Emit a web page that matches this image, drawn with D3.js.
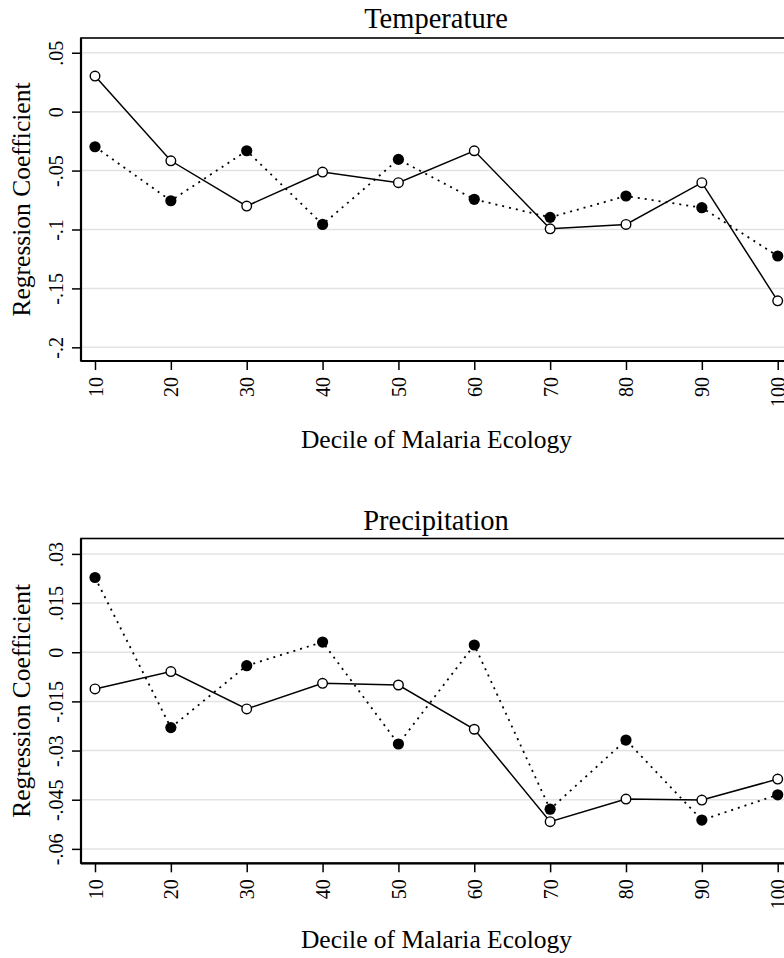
<!DOCTYPE html>
<html>
<head>
<meta charset="utf-8">
<script src="https://cdn.jsdelivr.net/npm/d3@7"></script>
<style>
	body { margin: 0; background: #fff; }
	svg { display: block; }
	text { font-family: "Liberation Serif", "Times New Roman", serif; fill: #000; }
</style>
</head>
<body>
<svg></svg>
<script>
//Canvas settings
var width = 784;
var height = 958;

//Data
var deciles = [10, 20, 30, 40, 50, 60, 70, 80, 90, 100];
var tempOpen = [0.0302, -0.0417, -0.0801, -0.0513, -0.0603, -0.0332, -0.0994, -0.0957, -0.0603, -0.1605];
var tempFilled = [-0.0298, -0.0756, -0.0332, -0.0957, -0.0405, -0.0744, -0.0897, -0.0716, -0.0815, -0.1225];
var precOpen = [-0.0112, -0.0059, -0.0173, -0.0095, -0.0100, -0.0235, -0.0517, -0.0448, -0.0451, -0.0387];
var precFilled = [0.0228, -0.0230, -0.0041, 0.0031, -0.0280, 0.0022, -0.0479, -0.0268, -0.0512, -0.0435];

//Tick values and labels
var tempTicks = [0.05, 0, -0.05, -0.1, -0.15, -0.2];
var tempTickLabels = [".05", "0", "-.05", "-.1", "-.15", "-.2"];
var precTicks = [0.03, 0.015, 0, -0.015, -0.03, -0.045, -0.06];
var precTickLabels = [".03", ".015", "0", "-.015", "-.03", "-.045", "-.06"];

var titles = ["Temperature", "Precipitation"];
var xTitle = "Decile of Malaria Ecology";
var yTitle = "Regression Coefficient";

var svg = d3.select("svg")
	.attr("width", width)
	.attr("height", height);

//plot region shared by both panels
var left = 81, right = 791;
var x = d3.scaleLinear().domain([10, 100]).range([95, 777.7]);

drawPanel({
	title: titles[0], top: 38, bottom: 361,
	domain: [-0.2116, 0.0625],
	ticks: tempTicks, labels: tempTickLabels,
	open: tempOpen, filled: tempFilled,
	titleY: 27.7, xTitleY: 448.3
});

drawPanel({
	title: titles[1], top: 538.5, bottom: 863.3,
	domain: [-0.0644, 0.0347],
	ticks: precTicks, labels: precTickLabels,
	open: precOpen, filled: precFilled,
	titleY: 530, xTitleY: 948.3
});

function drawPanel(p) {
	var y = d3.scaleLinear().domain(p.domain).range([p.bottom, p.top]);
	var g = svg.append("g");

	//gridlines
	g.selectAll("line.grid")
		.data(p.ticks)
		.enter().append("line")
		.attr("class", "grid")
		.attr("x1", left).attr("x2", right)
		.attr("y1", function(d) { return y(d); })
		.attr("y2", function(d) { return y(d); })
		.attr("stroke", "#e3e3e3")
		.attr("stroke-width", 1.5);

	//frame
	g.append("rect")
		.attr("x", left).attr("y", p.top)
		.attr("width", right - left).attr("height", p.bottom - p.top)
		.attr("fill", "none")
		.attr("stroke", "#000")
		.attr("stroke-width", 1.6);

	//y axis
	var labelOf = {};
	p.ticks.forEach(function(t, i) { labelOf[t] = p.labels[i]; });
	var yAxis = g.append("g")
		.attr("transform", "translate(" + left + ",0)")
		.call(d3.axisLeft(y).tickValues(p.ticks).tickSize(9).tickFormat(function(d) { return labelOf[d]; }))
		.attr("font-family", null)
		.attr("font-size", null);
	yAxis.select(".domain").attr("stroke-width", 2.2).attr("d", "M0," + p.top + "V" + p.bottom);
	yAxis.selectAll(".tick line").attr("stroke-width", 1.5);
	yAxis.selectAll(".tick text")
		.attr("x", 0).attr("y", -18).attr("dy", 0)
		.attr("transform", "rotate(-90)")
		.attr("text-anchor", "middle")
		.style("font-size", "20px");

	//x axis
	var xAxis = g.append("g")
		.attr("transform", "translate(0," + p.bottom + ")")
		.call(d3.axisBottom(x).tickValues(deciles).tickSize(9))
		.attr("font-family", null)
		.attr("font-size", null);
	xAxis.select(".domain").attr("stroke-width", 2.2).attr("d", "M" + left + ",0H" + right);
	xAxis.selectAll(".tick line").attr("stroke-width", 1.5);
	xAxis.selectAll(".tick text")
		.attr("x", -16).attr("y", 0).attr("dy", "0.35em")
		.attr("transform", "rotate(-90)")
		.attr("text-anchor", "end")
		.style("font-size", "20px");

	//titles
	g.append("text")
		.attr("x", (left + right) / 2).attr("y", p.titleY)
		.attr("text-anchor", "middle")
		.style("font-size", "28.5px")
		.text(p.title);
	g.append("text")
		.attr("x", 436.5).attr("y", p.xTitleY)
		.attr("text-anchor", "middle")
		.style("font-size", "25.5px")
		.text(xTitle);
	g.append("text")
		.attr("transform", "translate(30," + ((p.top + p.bottom) / 2) + ") rotate(-90)")
		.attr("text-anchor", "middle")
		.style("font-size", "25.5px")
		.text(yTitle);

	//dotted series with filled markers
	var lineF = d3.line()
		.x(function(d, i) { return x(deciles[i]); })
		.y(function(d) { return y(d); });
	g.append("path")
		.datum(p.filled)
		.attr("d", lineF)
		.attr("fill", "none")
		.attr("stroke", "#000")
		.attr("stroke-width", 1.8)
		.attr("stroke-dasharray", "2,5");
	g.selectAll("circle.filled")
		.data(p.filled)
		.enter().append("circle")
		.attr("class", "filled")
		.attr("cx", function(d, i) { return x(deciles[i]); })
		.attr("cy", function(d) { return y(d); })
		.attr("r", 5.6)
		.attr("fill", "#000");

	//solid series with hollow markers
	g.append("path")
		.datum(p.open)
		.attr("d", lineF)
		.attr("fill", "none")
		.attr("stroke", "#000")
		.attr("stroke-width", 1.5);
	g.selectAll("circle.open")
		.data(p.open)
		.enter().append("circle")
		.attr("class", "open")
		.attr("cx", function(d, i) { return x(deciles[i]); })
		.attr("cy", function(d) { return y(d); })
		.attr("r", 4.8)
		.attr("fill", "#fff")
		.attr("stroke", "#000")
		.attr("stroke-width", 1.4);
}
</script>
</body>
</html>
